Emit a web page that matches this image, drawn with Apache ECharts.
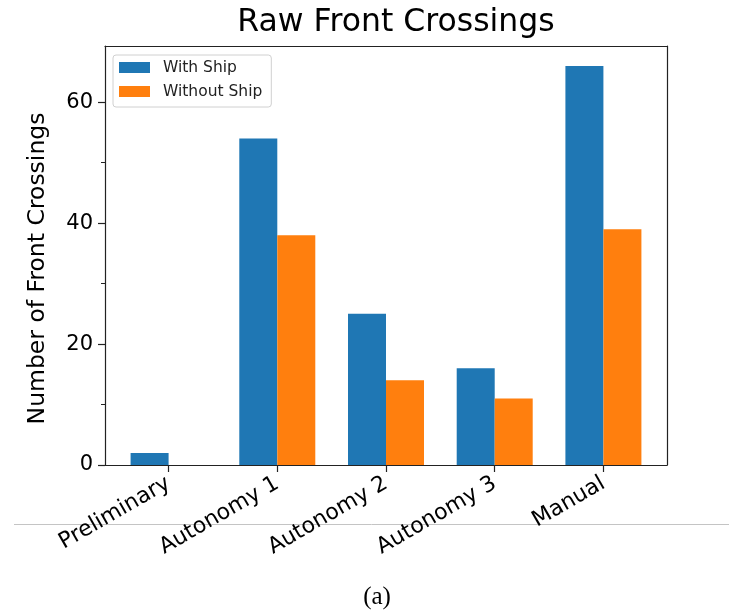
<!DOCTYPE html>
<html>
<head>
<meta charset="utf-8">
<script src="https://cdn.jsdelivr.net/npm/echarts@6/dist/echarts.min.js"></script>
<style>
  html, body { margin: 0; padding: 0; background: #fff; }
  #chart { width: 729px; height: 613px; }
</style>
</head>
<body>
<div id="chart"></div>
<script>
// Front crossing counts per trial phase
const categories = ['Preliminary', 'Autonomy 1', 'Autonomy 2', 'Autonomy 3', 'Manual'];
const withShip = [2, 54, 25, 16, 66];
const withoutShip = [0, 38, 14, 11, 39];
const yTickValues = [0, 20, 40, 60];
const yMinorTickValues = [10, 30, 50];

const categoryIndex = categories.map((_, i) => i);
// matplotlib-like limits: bars span +-0.35 around each category, 5% margin
const xMin = -0.585;
const xMax = categories.length - 1 + 0.585;
const yMax = Math.max(...withShip, ...withoutShip) * 1.05;

const FONT = 'DejaVu Sans';
const SPINE = { show: true, onZero: false, lineStyle: { color: '#222', width: 1.2 } };

const chart = echarts.init(document.getElementById('chart'), null, { renderer: 'canvas' });

chart.setOption({
  animation: false,
  backgroundColor: '#fff',
  title: {
    text: 'Raw Front Crossings',
    left: 391,
    top: 2,
    textAlign: 'center',
    textStyle: { fontFamily: FONT, fontSize: 31.5, fontWeight: 'normal', color: '#000' }
  },
  legend: {
    orient: 'vertical',
    left: 113,
    top: 55,
    padding: [4, 9, 7, 6],
    itemWidth: 31,
    itemHeight: 11,
    itemGap: 7,
    icon: 'rect',
    borderColor: '#d0d0d0',
    borderWidth: 1,
    borderRadius: 3,
    backgroundColor: 'rgba(255,255,255,0.8)',
    textStyle: { fontFamily: FONT, fontSize: 15.5, color: '#222', lineHeight: 17, padding: [0, 0, 0, 8] },
    data: ['With Ship', 'Without Ship']
  },
  grid: { left: 105, top: 46, width: 562, height: 419, containLabel: false },
  xAxis: [
    {
      type: 'value',
      position: 'bottom',
      min: xMin,
      max: xMax,
      axisLine: SPINE,
      axisTick: { show: true, customValues: categoryIndex, length: 7, lineStyle: { color: '#222', width: 1.2 } },
      axisLabel: {
        customValues: categoryIndex,
        formatter: v => categories[Math.round(v)],
        rotate: 30,
        margin: 17,
        fontFamily: FONT,
        fontSize: 22,
        color: '#000'
      },
      splitLine: { show: false }
    },
    {
      type: 'value',
      position: 'top',
      min: xMin,
      max: xMax,
      axisLine: SPINE,
      axisTick: { show: false },
      axisLabel: { show: false },
      splitLine: { show: false }
    }
  ],
  yAxis: [
    {
      type: 'value',
      position: 'left',
      min: 0,
      max: yMax,
      name: 'Number of Front Crossings',
      nameLocation: 'middle',
      nameRotate: 90,
      nameGap: 55,
      nameTextStyle: { fontFamily: FONT, fontSize: 23.5, color: '#000', padding: [0, 26, 0, 0] },
      axisLine: SPINE,
      axisTick: { show: true, customValues: yTickValues, length: 7, lineStyle: { color: '#222', width: 1.2 } },
      axisLabel: { customValues: yTickValues, margin: 12, fontFamily: FONT, fontSize: 21, color: '#000' },
      splitLine: { show: false }
    },
    {
      type: 'value',
      position: 'left',
      min: 0,
      max: yMax,
      axisLine: { show: false, onZero: false },
      axisTick: { show: true, customValues: yMinorTickValues, length: 4, lineStyle: { color: '#222', width: 1 } },
      axisLabel: { show: false },
      splitLine: { show: false }
    },
    {
      type: 'value',
      position: 'right',
      min: 0,
      max: yMax,
      axisLine: SPINE,
      axisTick: { show: false },
      axisLabel: { show: false },
      splitLine: { show: false }
    }
  ],
  series: [
    {
      name: 'With Ship',
      type: 'bar',
      xAxisIndex: 0,
      yAxisIndex: 0,
      data: withShip.map((v, i) => [i, v]),
      barWidth: 38,
      barGap: '0%',
      itemStyle: { color: '#1f77b4' },
      emphasis: { disabled: true }
    },
    {
      name: 'Without Ship',
      type: 'bar',
      xAxisIndex: 0,
      yAxisIndex: 0,
      data: withoutShip.map((v, i) => [i, v]),
      barWidth: 38,
      barGap: '0%',
      itemStyle: { color: '#ff7f0e' },
      emphasis: { disabled: true }
    }
  ],
  graphic: [
    {
      type: 'line',
      z: -10,
      shape: { x1: 14, y1: 524.5, x2: 729, y2: 524.5 },
      style: { stroke: '#c4c4c4', lineWidth: 1 }
    },
    {
      type: 'text',
      x: 377,
      y: 597,
      style: {
        text: '(a)',
        fontFamily: 'Liberation Serif',
        fontSize: 25,
        fill: '#000',
        textAlign: 'center',
        textVerticalAlign: 'middle'
      }
    }
  ]
});
</script>
</body>
</html>
